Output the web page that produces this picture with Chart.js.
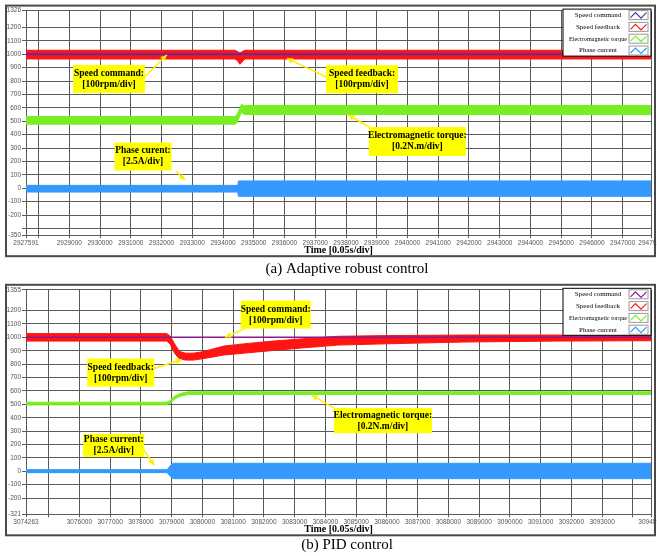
<!DOCTYPE html>
<html>
<head>
<meta charset="utf-8">
<script src="https://cdn.jsdelivr.net/npm/chart.js@4.4.1/dist/chart.umd.min.js"></script>
<style>
  html, body { margin: 0; padding: 0; background: #fff; }
  .panel { position: relative; width: 657px; height: 278px; }
  canvas { display: block; }
</style>
</head>
<body>
<div class="panel"><canvas id="chartA" width="657" height="278"></canvas></div>
<div class="panel"><canvas id="chartB" width="657" height="278"></canvas></div>
<script>
// ---------- (a) Adaptive robust control ----------
const xTicksA = [2927591, 2928000, 2929000, 2930000, 2931000, 2932000, 2933000, 2934000, 2935000, 2936000, 2937000,
  2938000, 2939000, 2940000, 2941000, 2942000, 2943000, 2944000, 2945000, 2946000, 2947000, 2947921];
const xLabelsA = ['2927591', '', '2929000', '2930000', '2931000', '2932000', '2933000', '2934000', '2935000', '2936000', '2937000',
  '2938000', '2939000', '2940000', '2941000', '2942000', '2943000', '2944000', '2945000', '2946000', '2947000', '2947921'];
const yTicksA = [-350, -300, -200, -100, 0, 100, 200, 300, 400, 500, 600, 700, 800, 900, 1000, 1100, 1200, 1326];
const yLabelsA = ['-350', '', '-200', '-100', '0', '100', '200', '300', '400', '500', '600', '700', '800', '900', '1000', '1100', '1200', '1326'];

const timeCmdA = [2927591, 2947921];
const speedCmdA = [1000, 1000];

const timeFbA = [2927591, 2934380, 2934460, 2934550, 2934640, 2934720, 2947921];
const fbUpperA = [1030, 1030, 1022, 1010, 1022, 1030, 1030];
const fbLowerA = [965, 965, 955, 925, 950, 965, 965];

const timeTqA = [2927591, 2934380, 2934450, 2934520, 2934600, 2934680, 2934780, 2947921];
const tqUpperA = [535, 535, 545, 585, 628, 615, 618, 618];
const tqLowerA = [478, 478, 488, 525, 568, 552, 550, 550];

const timeCurA = [2927591, 2934480, 2934500, 2947921];
const curUpperA = [22, 22, 55, 55];
const curLowerA = [-28, -28, -60, -60];

// ---------- (b) PID control ----------
const xTicksB = [3074263, 3075000, 3076000, 3077000, 3078000, 3079000, 3080000, 3081000, 3082000, 3083000, 3084000,
  3085000, 3086000, 3087000, 3088000, 3089000, 3090000, 3091000, 3092000, 3093000, 3094000, 3094590];
const xLabelsB = ['3074263', '', '3076000', '3077000', '3078000', '3079000', '3080000', '3081000', '3082000', '3083000', '3084000',
  '3085000', '3086000', '3087000', '3088000', '3089000', '3090000', '3091000', '3092000', '3093000', '', '3094590'];
const yTicksB = [-321, -200, -100, 0, 100, 200, 300, 400, 500, 600, 700, 800, 900, 1000, 1100, 1200, 1355];
const yLabelsB = ['-321', '-200', '-100', '0', '100', '200', '300', '400', '500', '600', '700', '800', '900', '1000', '1100', '1200', '1355'];

const timeCmdB = [3074263, 3094590];
const speedCmdB = [1000, 1000];

const timeFbB = [3074263, 3078840, 3078950, 3079100, 3079250, 3079450, 3079700, 3080000, 3080700, 3081500, 3082300,
  3083300, 3084400, 3086000, 3088500, 3091500, 3094590];
const fbUpperB = [1028, 1028, 1010, 950, 895, 882, 882, 892, 935, 955, 972, 990, 1008, 1013, 1017, 1017, 1017];
const fbLowerB = [972, 972, 950, 880, 840, 830, 830, 840, 868, 885, 902, 922, 942, 952, 965, 972, 975];

const timeTqB = [3074263, 3078840, 3078950, 3079100, 3079300, 3079550, 3094590];
const tqUpperB = [516, 516, 528, 562, 582, 594, 594];
const tqLowerB = [496, 496, 508, 540, 562, 574, 574];

const timeCurB = [3074263, 3078850, 3078950, 3079050, 3094590];
const curUpperB = [12, 12, 40, 60, 60];
const curLowerB = [-10, -10, -35, -55, -55];

const seriesNames = ['Speed command', 'Speed feedback', 'Electromagnetic torque', 'Phase current'];
const RED = '#ff1414', GREEN = '#77ee22', BLUE = '#3399ff';

function pts(times, vals) {
  return times.map((t, i) => ({ x: t, y: vals[i] }));
}

function line(label, times, vals, color, width) {
  return { label, data: pts(times, vals), borderColor: color, backgroundColor: color,
    borderWidth: width, pointRadius: 0, fill: false, tension: 0 };
}

// a noisy trace drawn as a filled band between its upper and lower envelope
function band(label, times, upper, lower, color) {
  return [
    { label, data: pts(times, upper), borderColor: color, backgroundColor: color,
      borderWidth: 1, pointRadius: 0, fill: '+1', tension: 0 },
    { label: label + ' low', data: pts(times, lower), borderColor: color,
      borderWidth: 1, pointRadius: 0, fill: false, tension: 0 }
  ];
}

function arrow(ctx, x1, y1, x2, y2) {
  ctx.beginPath();
  ctx.moveTo(x1, y1);
  ctx.lineTo(x2, y2);
  ctx.stroke();
  const a = Math.atan2(y2 - y1, x2 - x1), L = 6, W = 3;
  ctx.beginPath();
  ctx.moveTo(x2, y2);
  ctx.lineTo(x2 - L * Math.cos(a) + W * Math.sin(a), y2 - L * Math.sin(a) - W * Math.cos(a));
  ctx.lineTo(x2 - L * Math.cos(a) - W * Math.sin(a), y2 - L * Math.sin(a) + W * Math.cos(a));
  ctx.closePath();
  ctx.fill();
}

const panelDecor = {
  id: 'panelDecor',
  beforeDraw(chart) {
    const ctx = chart.ctx;
    ctx.save();
    ctx.fillStyle = '#fff';
    ctx.fillRect(0, 0, chart.width, chart.height);
    ctx.restore();
  },
  afterDraw(chart, args, opts) {
    const { ctx, chartArea: ca } = chart;
    const sx = chart.scales.x, sy = chart.scales.y;
    ctx.save();

    // annotation boxes with arrows
    ctx.strokeStyle = '#ffee00';
    ctx.fillStyle = '#ffee00';
    ctx.lineWidth = 1.5;
    opts.notes.forEach(n => {
      arrow(ctx, sx.getPixelForValue(n.from[0]), sy.getPixelForValue(n.from[1]),
        sx.getPixelForValue(n.to[0]), sy.getPixelForValue(n.to[1]));
    });
    opts.notes.forEach(n => {
      const cx = sx.getPixelForValue(n.at[0]), cy = sy.getPixelForValue(n.at[1]);
      ctx.fillStyle = '#ffff00';
      ctx.fillRect(cx - n.w / 2, cy - n.h / 2, n.w, n.h);
      ctx.fillStyle = '#000';
      ctx.font = 'bold 9.5px "Liberation Serif"';
      ctx.textAlign = 'center';
      ctx.textBaseline = 'middle';
      ctx.fillText(n.lines[0], cx, cy - 5.5);
      ctx.fillText(n.lines[1], cx, cy + 5.5);
    });

    // legend box
    const lw = 88, lh = 47, lx = ca.right - lw, ly = ca.top - 1.5;
    ctx.fillStyle = '#fff';
    ctx.fillRect(lx, ly, lw, lh);
    ctx.strokeStyle = '#000';
    ctx.lineWidth = 1;
    ctx.strokeRect(lx, ly, lw, lh);
    ctx.font = '7px "Liberation Serif"';
    ctx.textAlign = 'center';
    ctx.textBaseline = 'middle';
    seriesNames.forEach((name, i) => {
      const ry = ly + 6 + i * 11.8;
      ctx.fillStyle = '#000';
      ctx.fillText(name, lx + 35, ry, 58);
      const bx = lx + lw - 22, by = ry - 4.5;
      ctx.strokeStyle = '#999';
      ctx.lineWidth = 1;
      ctx.strokeRect(bx, by, 19, 9);
      ctx.strokeStyle = opts.colors[i];
      ctx.lineWidth = 1.2;
      ctx.beginPath();
      ctx.moveTo(bx + 1.5, by + 7);
      ctx.lineTo(bx + 6.5, by + 2);
      ctx.lineTo(bx + 12, by + 7.5);
      ctx.lineTo(bx + 17.5, by + 2);
      ctx.stroke();
    });

    // panel frame
    ctx.strokeStyle = '#4a4a4a';
    ctx.lineWidth = 2;
    ctx.strokeRect(ca.left - 20, ca.top - 5, ca.right - ca.left + 24, ca.bottom - ca.top + 26);

    // caption
    ctx.fillStyle = '#000';
    ctx.font = '15px "Liberation Serif"';
    ctx.textAlign = 'center';
    ctx.textBaseline = 'middle';
    ctx.fillText(opts.caption, 347, opts.captionY);
    ctx.restore();
  }
};

function makeChart(id, p) {
  const tickFont = { family: 'Liberation Sans', size: 6.5 };
  const grid = { color: '#5a5a5a', lineWidth: 1, tickLength: 3 };
  return new Chart(document.getElementById(id), {
    type: 'line',
    data: {
      datasets: [
        line(seriesNames[0], p.timeCmd, p.cmd, p.cmdColor, p.cmdWidth),
        ...band(seriesNames[1], p.timeFb, p.fbUp, p.fbLow, RED),
        ...band(seriesNames[2], p.timeTq, p.tqUp, p.tqLow, GREEN),
        ...band(seriesNames[3], p.timeCur, p.curUp, p.curLow, BLUE)
      ]
    },
    options: {
      responsive: false,
      animation: false,
      devicePixelRatio: 1,
      layout: { padding: { top: p.top, right: 6, bottom: 0, left: 0 } },
      plugins: {
        legend: { display: false },
        tooltip: { enabled: false },
        panelDecor: { notes: p.notes, caption: p.caption, captionY: p.captionY,
          colors: [p.cmdColor, RED, GREEN, BLUE] }
      },
      scales: {
        x: {
          type: 'linear',
          min: p.xTicks[0],
          max: p.xTicks[p.xTicks.length - 1],
          afterBuildTicks: s => { s.ticks = p.xTicks.map(v => ({ value: v })); },
          afterFit: s => { s.height = p.xHeight; s.paddingLeft = 0; s.paddingRight = 0; },
          ticks: { autoSkip: false, maxRotation: 0, minRotation: 0, padding: 1, color: '#555', font: tickFont,
            callback: (v, i) => p.xLabels[i] },
          grid: grid,
          border: { color: '#5a5a5a' },
          title: { display: true, text: 'Time [0.05s/div]', color: '#000',
            font: { family: 'Liberation Serif', size: 10, weight: 'bold' },
            padding: { top: 0, bottom: p.titlePad } }
        },
        y: {
          type: 'linear',
          min: p.yTicks[0],
          max: p.yTicks[p.yTicks.length - 1],
          afterBuildTicks: s => { s.ticks = p.yTicks.map(v => ({ value: v })); },
          afterFit: s => { s.width = 26; s.paddingTop = 0; s.paddingBottom = 0; },
          ticks: { autoSkip: false, padding: 1, color: '#555', font: tickFont,
            callback: (v, i) => p.yLabels[i] },
          grid: { color: '#5a5a5a', lineWidth: 1, tickLength: 4 },
          border: { color: '#5a5a5a' }
        }
      }
    },
    plugins: [panelDecor]
  });
}

makeChart('chartA', {
  xTicks: xTicksA, xLabels: xLabelsA, yTicks: yTicksA, yLabels: yLabelsA,
  timeCmd: timeCmdA, cmd: speedCmdA, cmdColor: '#5b2d9e', cmdWidth: 2,
  timeFb: timeFbA, fbUp: fbUpperA, fbLow: fbLowerA,
  timeTq: timeTqA, tqUp: tqUpperA, tqLow: tqLowerA,
  timeCur: timeCurA, curUp: curUpperA, curLow: curLowerA,
  top: 10.6, xHeight: 42.8, titlePad: 22,
  caption: '(a) Adaptive robust control', captionY: 269,
  notes: [
    { lines: ['Speed command:', '[100rpm/div]'], at: [2930290, 816], w: 72, h: 28, from: [2931460, 833], to: [2932170, 995] },
    { lines: ['Speed feedback:', '[100rpm/div]'], at: [2938521, 814], w: 72, h: 28, from: [2937350, 831], to: [2936082, 969] },
    { lines: ['Electromagnetic torque:', '[0.2N.m/div]'], at: [2940321, 349], w: 97, h: 29, from: [2938814, 450], to: [2938076, 547] },
    { lines: ['Phase curent:', '[2.5A/div]'], at: [2931397, 237], w: 57, h: 28, from: [2932461, 129], to: [2932763, 62] }
  ]
});

makeChart('chartB', {
  xTicks: xTicksB, xLabels: xLabelsB, yTicks: yTicksB, yLabels: yLabelsB,
  timeCmd: timeCmdB, cmd: speedCmdB, cmdColor: '#8b1a8b', cmdWidth: 1.5,
  timeFb: timeFbB, fbUp: fbUpperB, fbLow: fbLowerB,
  timeTq: timeTqB, tqUp: tqUpperB, tqLow: tqLowerB,
  timeCur: timeCurB, curUp: curUpperB, curLow: curLowerB,
  top: 11.8, xHeight: 41.7, titlePad: 21,
  caption: '(b) PID control', captionY: 267,
  notes: [
    { lines: ['Speed command:', '[100rpm/div]'], at: [3082384, 1170], w: 70, h: 28, from: [3081386, 1067], to: [3080735, 1000] },
    { lines: ['Speed feedback:', '[100rpm/div]'], at: [3077343, 737], w: 67, h: 28, from: [3078426, 768], to: [3079327, 835] },
    { lines: ['Electromagnetic torque:', '[0.2N.m/div]'], at: [3085871, 378], w: 98, h: 25, from: [3084280, 471], to: [3083555, 568] },
    { lines: ['Phase current:', '[2.5A/div]'], at: [3077115, 194], w: 61, h: 23, from: [3078101, 157], to: [3078436, 45] }
  ]
});
</script>
</body>
</html>
